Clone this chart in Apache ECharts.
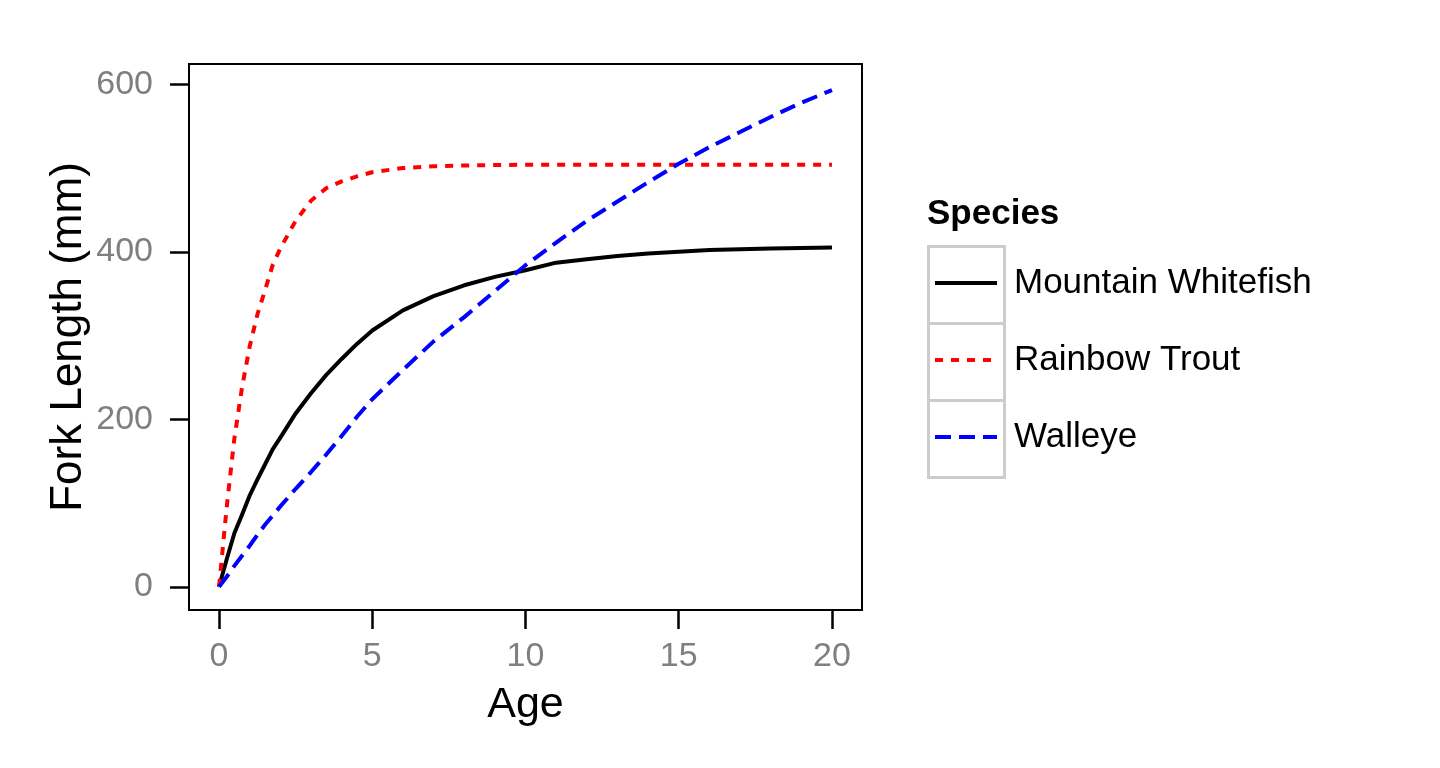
<!DOCTYPE html>
<html>
<head>
<meta charset="utf-8">
<script src="https://cdn.jsdelivr.net/npm/echarts@6/dist/echarts.min.js"></script>
<style>
  html, body { margin: 0; padding: 0; background: #fff; }
  #chart { width: 1440px; height: 768px; }
</style>
</head>
<body>
<div id="chart"></div>
<script>
// ---- Data ----
const ages = [0, 0.25, 0.5, 0.75, 1, 1.25, 1.5, 1.75, 2, 2.5, 3, 3.5, 4, 4.5, 5, 6, 7, 8, 9, 10, 11, 12, 13, 14, 15, 16, 17, 18, 19, 20];
const speciesNames = ['Mountain Whitefish', 'Rainbow Trout', 'Walleye'];
const whitefish = [0, 33, 64, 86, 109, 128, 146, 164, 178, 207, 231, 253, 272, 290, 306, 330, 347, 360, 370, 378, 387, 391, 395, 398, 400, 402, 403, 404, 404.5, 405];
const rainbow   = [0, 95, 177, 238, 287, 325, 354, 384, 404, 437, 461, 476, 484, 490, 495, 500, 502, 503, 503.5, 504, 504, 504, 504, 504, 504, 504, 504, 504, 504, 504];
const walleye   = [0, 12, 25, 37, 49, 62, 74, 85, 96, 117, 137, 158, 180, 203, 224, 259, 293, 322, 353, 384, 411, 437, 460, 483, 505, 525, 543, 561, 578, 593];
const xTicks = [0, 5, 10, 15, 20];
const yTicks = [0, 200, 400, 600];
const legendTitle = 'Species';
const xTitle = 'Age';
const yTitle = 'Fork Length (mm)';

const FONT = '"Liberation Sans", Arial, sans-serif';
const COLORS = ['#000000', '#ff0000', '#0000ff'];
const DASHES = ['solid', [8, 8], [16, 8]];
const LW = 4;
const pairs = vals => ages.map((a, i) => [a, vals[i]]);

const chart = echarts.init(document.getElementById('chart'), null, { renderer: 'canvas' });

const keyBoxes = speciesNames.map((n, i) => ({
  type: 'rect',
  left: 927,
  top: 245 + i * 77,
  shape: { width: 76, height: 77 },
  style: { fill: '#ffffff', stroke: '#cccccc', lineWidth: 3 },
  z: 0
}));

const seriesValues = [whitefish, rainbow, walleye];

const option = {
  animation: false,
  backgroundColor: '#ffffff',
  title: {
    text: legendTitle,
    left: 927,
    top: 197,
    padding: 0,
    textStyle: { fontFamily: FONT, fontSize: 35, fontWeight: 'bold', color: '#000' }
  },
  graphic: keyBoxes,
  legend: {
    orient: 'vertical',
    left: 933,
    top: 263,
    itemWidth: 62,
    itemHeight: 40,
    itemGap: 37,
    padding: 0,
    itemStyle: { opacity: 0 },
    data: speciesNames.map((n, i) => ({
      name: n,
      itemStyle: { opacity: 0 },
      lineStyle: { color: COLORS[i], width: LW, type: DASHES[i], cap: 'butt' }
    })),
    textStyle: { fontFamily: FONT, fontSize: 35, color: '#000', lineHeight: 40, padding: [0, 0, 0, 12] },
    z: 10
  },
  grid: {
    left: 189, right: 578, top: 64, bottom: 158,
    show: true, borderColor: '#000', borderWidth: 2, backgroundColor: '#fff'
  },
  xAxis: {
    type: 'value',
    min: -0.98, max: 20.98,
    name: xTitle,
    nameLocation: 'middle',
    nameGap: 74,
    nameTextStyle: { fontFamily: FONT, fontSize: 43, color: '#000' },
    axisLine: { show: true, onZero: false, lineStyle: { color: '#000', width: 2 } },
    axisTick: { show: true, length: 19, customValues: xTicks, lineStyle: { color: '#000', width: 2.5 } },
    axisLabel: { customValues: xTicks, margin: 30, fontFamily: FONT, fontSize: 34, color: '#7f7f7f' },
    splitLine: { show: false }
  },
  yAxis: {
    type: 'value',
    min: -27.7, max: 624.2,
    name: yTitle,
    nameLocation: 'middle',
    nameGap: 98,
    nameRotate: 90,
    nameTextStyle: { fontFamily: FONT, fontSize: 44, color: '#000' },
    axisLine: { show: true, onZero: false, lineStyle: { color: '#000', width: 2 } },
    axisTick: { show: true, length: 19, customValues: yTicks, lineStyle: { color: '#000', width: 2.5 } },
    axisLabel: { customValues: yTicks, margin: 36, fontFamily: FONT, fontSize: 34, color: '#7f7f7f' },
    splitLine: { show: false }
  },
  series: speciesNames.map((n, i) => ({
    name: n, type: 'line', data: pairs(seriesValues[i]),
    showSymbol: false, symbol: 'none', smooth: false,
    lineStyle: { color: COLORS[i], width: LW, type: DASHES[i], cap: 'butt', join: 'round' },
    itemStyle: { color: COLORS[i] }
  }))
};
chart.setOption(option);
</script>
</body>
</html>
